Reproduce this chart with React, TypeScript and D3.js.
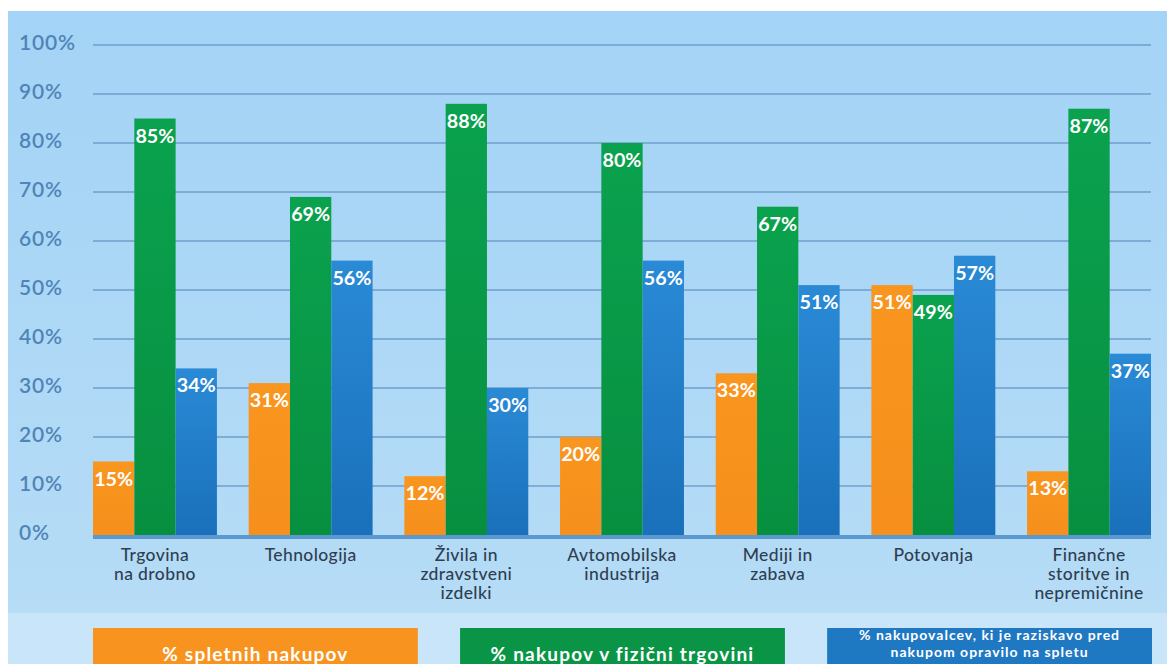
import React from "react";
import * as d3 from "d3";

const categories: string[][] = [
  ["Trgovina", "na drobno"],
  ["Tehnologija"],
  ["Živila in", "zdravstveni", "izdelki"],
  ["Avtomobilska", "industrija"],
  ["Mediji in", "zabava"],
  ["Potovanja"],
  ["Finančne", "storitve in", "nepremičnine"],
];
const online = [15, 31, 12, 20, 33, 51, 13];
const store = [85, 69, 88, 80, 67, 49, 87];
const research = [34, 56, 30, 56, 51, 57, 37];
const yTicks = [0, 10, 20, 30, 40, 50, 60, 70, 80, 90, 100];
const legendLabels: string[][] = [
  ["% spletnih nakupov"],
  ["% nakupov v fizični trgovini"],
  ["% nakupovalcev, ki je raziskavo pred", "nakupom opravilo na spletu"],
];

const seriesList = [
  { key: "online", values: online, grad: "gOrange" },
  { key: "store", values: store, grad: "gGreen" },
  { key: "research", values: research, grad: "gBlue" },
];
const legendFill = ["#f7931e", "#0a9546", "#1f78c2"];

const W = 1167;
const H = 664;
const FONT = "Lato, 'Open Sans', sans-serif";

export default function App() {
  const x0 = d3
    .scaleBand<number>()
    .domain(d3.range(categories.length))
    .range([93, 1151])
    .paddingInner(0.204)
    .paddingOuter(0);
  const x1 = d3
    .scaleBand<string>()
    .domain(seriesList.map((s) => s.key))
    .range([0, x0.bandwidth()])
    .padding(0);
  const y = d3.scaleLinear().domain([0, 100]).range([535, 45]);

  const legendX = d3.scaleBand<number>().domain([0, 1, 2]).range([93, 1152]).paddingInner(0.115).paddingOuter(0);

  return (
    <svg width={W} height={H} style={{ position: "absolute", left: 0, top: 0 }}>
      <defs>
        <linearGradient id="bgTop" x1="0" y1="0" x2="0" y2="1">
          <stop offset="0" stopColor="#a3d3f6" />
          <stop offset="1" stopColor="#b6dcf6" />
        </linearGradient>
        <linearGradient id="gOrange" x1="0" y1="0" x2="0" y2="1">
          <stop offset="0" stopColor="#f9961f" />
          <stop offset="1" stopColor="#f68f1c" />
        </linearGradient>
        <linearGradient id="gGreen" x1="0" y1="0" x2="0" y2="1">
          <stop offset="0" stopColor="#0aa24e" />
          <stop offset="1" stopColor="#078f40" />
        </linearGradient>
        <linearGradient id="gBlue" x1="0" y1="0" x2="0" y2="1">
          <stop offset="0" stopColor="#2a8ad6" />
          <stop offset="1" stopColor="#1a70ba" />
        </linearGradient>
      </defs>
      <rect x={0} y={0} width={W} height={H} fill="#ffffff" />
      <rect x={8} y={11} width={W - 8} height={602} fill="url(#bgTop)" />
      <rect x={8} y={613} width={W - 8} height={H - 613} fill="#c8e5f9" />

      {yTicks.map((t) => (
        <g key={t}>
          {t > 0 && (
            <line x1={93} x2={1151} y1={y(t)} y2={y(t)} stroke="#6e9fcb" strokeWidth={1.6} />
          )}
          <text
            x={19}
            y={y(t)}
            dominantBaseline="middle"
            fontFamily={FONT}
            fontSize={21}
            fontWeight={600}
            letterSpacing={0.8}
            fill="#4f84b6"
          >
            {t}%
          </text>
        </g>
      ))}

      {categories.map((cat, i) => (
        <g key={i} transform={`translate(${x0(i)},0)`}>
          {seriesList.map((s) => {
            const v = s.values[i];
            const bx = x1(s.key)!;
            const bw = x1.bandwidth();
            return (
              <g key={s.key}>
                <rect x={bx} y={y(v)} width={bw} height={y(0) - y(v)} fill={`url(#${s.grad})`} />
                <text
                  x={bx + bw / 2}
                  y={y(v) + 24}
                  textAnchor="middle"
                  fontFamily={FONT}
                  fontWeight="bold"
                  fontSize={18}
                  textLength={39}
                  lengthAdjust="spacingAndGlyphs"
                  fill="#ffffff"
                >
                  {v}%
                </text>
              </g>
            );
          })}
          {cat.map((line, k) => (
            <text
              key={k}
              x={x0.bandwidth() / 2}
              y={561 + k * 19}
              textAnchor="middle"
              fontFamily={FONT}
              fontSize={17.5}
              fontWeight={500}
              letterSpacing={0.4}
              fill="#2e3f52"
            >
              {line}
            </text>
          ))}
        </g>
      ))}

      <line x1={93} x2={1151} y1={537} y2={537} stroke="#5a98cf" strokeWidth={4} />

      {legendLabels.map((lines, i) => {
        const lx = legendX(i)!;
        const lw = legendX.bandwidth();
        const two = lines.length > 1;
        return (
          <g key={i}>
            <rect x={lx} y={628} width={lw} height={H - 628} fill={legendFill[i]} />
            {lines.map((ln, k) => (
              <text
                key={k}
                x={lx + lw / 2}
                y={two ? 640 + k * 17 : 656}
                textAnchor="middle"
                dominantBaseline={two ? "auto" : "middle"}
                fontFamily={FONT}
                fontWeight="bold"
                fontSize={two ? 14 : 19}
                letterSpacing={two ? 1 : 1.2}
                fill="#ffffff"
              >
                {ln}
              </text>
            ))}
          </g>
        );
      })}
    </svg>
  );
}
